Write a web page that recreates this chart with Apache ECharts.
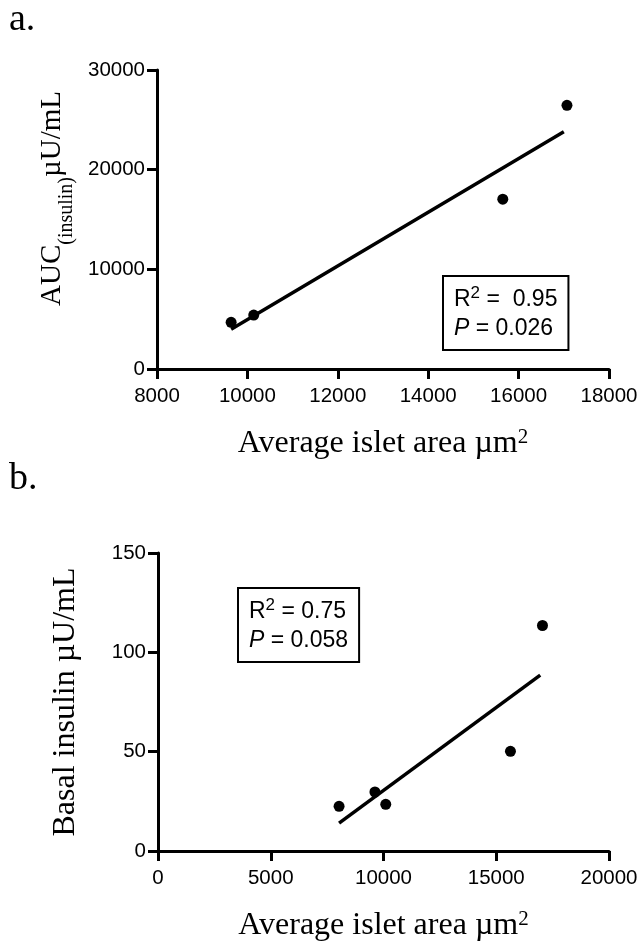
<!DOCTYPE html>
<html>
<head>
<meta charset="utf-8">
<script src="https://cdn.jsdelivr.net/npm/echarts@6/dist/echarts.min.js"></script>
<style>
html,body{margin:0;padding:0;background:#fff;}
#main{width:642px;height:944px;}
</style>
</head>
<body>
<div id="main"></div>
<script>
// Panel a: AUC(insulin) vs average islet area
const areaA = [9640, 10140, 15650, 17070];
const aucA = [4680, 5410, 17040, 26460];
const fitA_x = [9640, 17000];
const fitA_y = [4000, 23800];
const ticksA_x = [8000, 18000, 2000];
const ticksA_y = [0, 30000, 10000];
const statsA = { r2: ' 0.95', p: '0.026' };

// Panel b: basal insulin vs average islet area
const areaB = [8030, 9620, 10100, 15630, 17050];
const basalB = [22.5, 29.7, 23.5, 50.2, 113.5];
const fitB_x = [8030, 16950];
const fitB_y = [14.0, 88.5];
const ticksB_x = [0, 20000, 5000];
const ticksB_y = [0, 150, 50];
const statsB = { r2: '0.75', p: '0.058' };

const SANS = '"Liberation Sans", Arial, sans-serif';
const SERIF = '"Liberation Serif", "Times New Roman", serif';

function pairs(xs, ys) { return xs.map((x, i) => [x, ys[i]]); }

function axisCommon() {
  return {
    type: 'value',
    axisLine: { show: true, onZero: false, lineStyle: { color: '#000', width: 3 } },
    axisTick: { show: true, inside: false, length: 10, lineStyle: { color: '#000', width: 3 } },
    splitLine: { show: false },
    axisLabel: { color: '#000', fontSize: 20.5, fontFamily: SANS, margin: 12, formatter: v => String(v) },
    nameTextStyle: { color: '#000', fontFamily: SERIF, fontSize: 32 }
  };
}

function xAxis(grid, t) {
  const ax = Object.assign(axisCommon(), {
    gridIndex: grid, min: t[0], max: t[1], interval: t[2],
    name: 'Average islet area µm{sup|2}',
    nameLocation: 'middle', nameGap: 92,
    nameTextStyle: {
      color: '#000', fontFamily: SERIF, fontSize: 32, lineHeight: 34, verticalAlign: 'bottom',
      rich: { sup: { fontFamily: SERIF, fontSize: 21, lineHeight: 20, verticalAlign: 'top', color: '#000' } }
    }
  });
  ax.axisLabel.margin = 17;
  return ax;
}

function statText(s) {
  return '{r|R}{sup|2}{r| = ' + s.r2 + '}\n{it|P}{r| = ' + s.p + '}';
}
function statRich() {
  return {
    r: { fontFamily: SANS, fontSize: 23, lineHeight: 29, color: '#000' },
    it: { fontFamily: SANS, fontSize: 23, lineHeight: 29, fontStyle: 'italic', color: '#000' },
    sup: { fontFamily: SANS, fontSize: 17, lineHeight: 17, verticalAlign: 'top', color: '#000' }
  };
}

const option = {
  backgroundColor: '#fff',
  animation: false,
  grid: [
    { left: 157, right: 33, top: 70, bottom: 575, containLabel: false },
    { left: 158, right: 33, top: 553, bottom: 91, containLabel: false }
  ],
  xAxis: [xAxis(0, ticksA_x), xAxis(1, ticksB_x)],
  yAxis: [
    Object.assign(axisCommon(), {
      gridIndex: 0, min: ticksA_y[0], max: ticksA_y[1], interval: ticksA_y[2],
      name: 'AUC{sub|(insulin)}µU/mL',
      nameLocation: 'middle', nameRotate: 90, nameGap: 90,
      nameTextStyle: {
        color: '#000', fontFamily: SERIF, fontSize: 29, lineHeight: 30, verticalAlign: 'top',
        padding: [0, 0, 0, 42],
        rich: { sub: { fontFamily: SERIF, fontSize: 20, lineHeight: 50, verticalAlign: 'bottom', color: '#000' } }
      }
    }),
    Object.assign(axisCommon(), {
      gridIndex: 1, min: ticksB_y[0], max: ticksB_y[1], interval: ticksB_y[2],
      name: 'Basal insulin µU/mL',
      nameLocation: 'middle', nameRotate: 90, nameGap: 76,
      nameTextStyle: { color: '#000', fontFamily: SERIF, fontSize: 32 }
    })
  ],
  series: [
    { type: 'scatter', xAxisIndex: 0, yAxisIndex: 0, data: pairs(areaA, aucA),
      symbol: 'circle', symbolSize: 11, itemStyle: { color: '#000', opacity: 1 }, z: 3 },
    { type: 'line', xAxisIndex: 0, yAxisIndex: 0, data: pairs(fitA_x, fitA_y),
      showSymbol: false, symbol: 'none', lineStyle: { color: '#000', width: 3.5 }, z: 2 },
    { type: 'scatter', xAxisIndex: 1, yAxisIndex: 1, data: pairs(areaB, basalB),
      symbol: 'circle', symbolSize: 11, itemStyle: { color: '#000', opacity: 1 }, z: 3 },
    { type: 'line', xAxisIndex: 1, yAxisIndex: 1, data: pairs(fitB_x, fitB_y),
      showSymbol: false, symbol: 'none', lineStyle: { color: '#000', width: 3.5 }, z: 2 }
  ],
  graphic: [
    { type: 'text', left: 9, top: 1, style: { text: 'a.', fontFamily: SERIF, fontSize: 38, fill: '#000' } },
    { type: 'text', left: 9, top: 460, style: { text: 'b.', fontFamily: SERIF, fontSize: 38, fill: '#000' } },
    { type: 'text', left: 442, top: 275, style: {
        text: statText(statsA), rich: statRich(), fill: '#000',
        borderColor: '#000', borderWidth: 2, padding: [8, 10, 6, 10], backgroundColor: '#fff' } },
    { type: 'text', left: 237, top: 587, style: {
        text: statText(statsB), rich: statRich(), fill: '#000',
        borderColor: '#000', borderWidth: 2, padding: [8, 10, 6, 10], backgroundColor: '#fff' } }
  ]
};

const chart = echarts.init(document.getElementById('main'), null, { renderer: 'canvas' });
chart.setOption(option);
</script>
</body>
</html>
